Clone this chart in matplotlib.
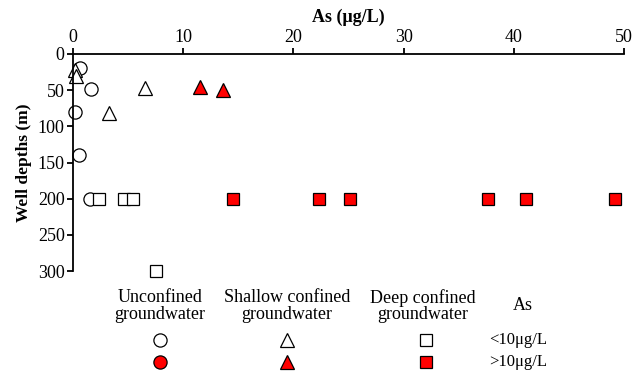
import matplotlib
matplotlib.use("Agg")
import matplotlib.pyplot as plt

plt.rcParams['font.family'] = ['Liberation Serif', 'DejaVu Serif']

# As (ug/L) and well depth (m) per aquifer type
unconf_low_as = [0.6, 1.6, 0.2, 0.5, 1.5]
unconf_low_depth = [20, 48, 80, 140, 200]

shallow_low_as = [0.2, 0.3, 6.5, 3.3]
shallow_low_depth = [22, 30, 47, 82]
shallow_high_as = [11.5, 13.6]
shallow_high_depth = [46, 50]

deep_low_as = [2.4, 4.6, 5.4, 7.5]
deep_low_depth = [200, 200, 200, 300]
deep_high_as = [14.5, 22.3, 25.1, 37.7, 41.1, 49.2]
deep_high_depth = [200, 200, 200, 200, 200, 200]

col_titles = ["Unconfined\ngroundwater", "Shallow confined\ngroundwater",
              "Deep confined\ngroundwater", "As"]
row_labels = ["<10μg/L", ">10μg/L"]
col_markers = ['o', '^', 's']

fig = plt.figure(figsize=(6.44, 3.74), dpi=100)
ax = fig.add_axes([73/644, 1 - 271/374, (624 - 73)/644, (271 - 54)/374])

ax.plot(unconf_low_as, unconf_low_depth, 'o', ms=9.5, mfc='white', mec='black', mew=0.9, clip_on=False)
ax.plot(shallow_low_as, shallow_low_depth, '^', ms=9.5, mfc='white', mec='black', mew=0.9, clip_on=False)
ax.plot(shallow_high_as, shallow_high_depth, '^', ms=9.5, mfc='red', mec='black', mew=0.9, clip_on=False)
ax.plot(deep_low_as, deep_low_depth, 's', ms=8, mfc='white', mec='black', mew=0.9, clip_on=False)
ax.plot(deep_high_as, deep_high_depth, 's', ms=8, mfc='red', mec='black', mew=0.9, clip_on=False)

ax.set_xlim(0, 50)
ax.set_ylim(300, 0)
ax.set_xticks([0, 10, 20, 30, 40, 50])
ax.set_yticks([0, 50, 100, 150, 200, 250, 300])
ax.xaxis.tick_top()
ax.xaxis.set_label_position('top')
ax.spines['right'].set_visible(False)
ax.spines['bottom'].set_visible(False)
for s in ('top', 'left'):
    ax.spines[s].set_linewidth(1.3)
ax.tick_params(direction='out', length=4, width=1.3, labelsize=13, pad=2)
ax.set_xlabel('As (μg/L)', fontsize=13, fontweight='bold', labelpad=5)
ax.set_ylabel('Well depths (m)', fontsize=12.5, fontweight='bold', labelpad=4)

# legend-style table below the plot
col_x = [160/644, 287/644, 423/644, 523/644]
for i, t in enumerate(col_titles):
    fig.text(col_x[i], 1 - 306/374, t, ha='center', va='center', fontsize=13, linespacing=0.95)
row_y = [1 - 340/374, 1 - 362/374]
for j, lab in enumerate(row_labels):
    fig.text(518/644, row_y[j], lab, ha='center', va='center', fontsize=12)
    for i, m in enumerate(col_markers):
        fc = 'white' if j == 0 else 'red'
        ms = 8.5 if m == 's' else 9.5
        ax.plot([col_x[i] + (3/644 if m == 's' else 0)], [row_y[j]], m, ms=ms, mfc=fc, mec='black', mew=0.9,
                transform=fig.transFigure, clip_on=False)

fig.savefig('out.png', dpi=100)
